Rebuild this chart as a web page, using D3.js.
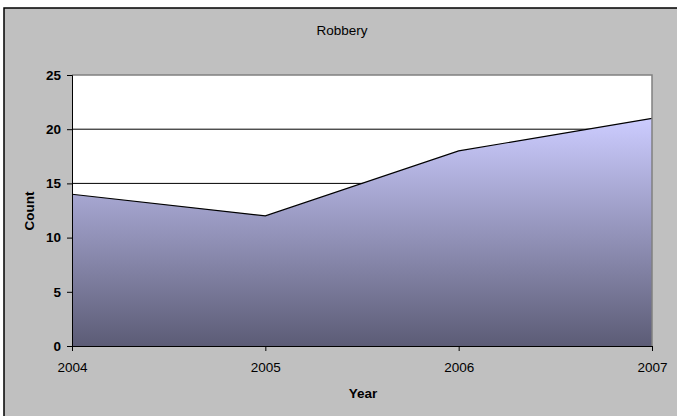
<!DOCTYPE html>
<html><head><meta charset="utf-8">
<script src="https://cdn.jsdelivr.net/npm/d3@7"></script>
<style>body{margin:0;background:#fff}svg{display:block;font-family:"Liberation Sans",Arial,sans-serif}</style>
</head><body><div id="c"></div>
<script>
const years = [2004, 2005, 2006, 2007];
const counts = [14, 12, 18, 21];
const yTicks = [0, 5, 10, 15, 20, 25];
const title = "Robbery";
const xTitle = "Year";
const yTitle = "Count";

const W = 677, H = 416;
const m = {left: 72, right: 652, top: 75, bottom: 346};
const FS = 13.5;
const svg = d3.select("#c").append("svg").attr("width", W).attr("height", H);

svg.append("rect").attr("x", 4).attr("y", 8).attr("width", 690).attr("height", 430)
  .attr("fill", "#c0c0c0").attr("stroke", "#000").attr("stroke-width", 1.5);

const x = d3.scaleLinear().domain([2004, 2007]).range([m.left, m.right]);
const y = d3.scaleLinear().domain([0, 25]).range([m.bottom, m.top]);

svg.append("rect").attr("x", m.left).attr("y", m.top)
  .attr("width", m.right - m.left).attr("height", m.bottom - m.top).attr("fill", "#fff");

// gridlines
svg.append("g").selectAll("line").data(yTicks.filter(t => t > 0 && t < 25)).join("line")
  .attr("x1", m.left).attr("x2", m.right).attr("y1", d => y(d)).attr("y2", d => y(d))
  .attr("stroke", "#000").attr("stroke-width", 1);

const defs = svg.append("defs");
const grad = defs.append("linearGradient").attr("id", "g")
  .attr("x1", 0).attr("x2", 0).attr("y1", 0).attr("y2", 1);
grad.append("stop").attr("offset", "0%").attr("stop-color", "#ccccff");
grad.append("stop").attr("offset", "100%").attr("stop-color", "#5c5c76");

const data = years.map((yr, i) => ({yr, v: counts[i]}));
svg.append("path").datum(data)
  .attr("d", d3.area().x(d => x(d.yr)).y0(y(0)).y1(d => y(d.v)))
  .attr("fill", "url(#g)");
svg.append("path").datum(data)
  .attr("d", d3.line().x(d => x(d.yr)).y(d => y(d.v)))
  .attr("fill", "none").attr("stroke", "#000").attr("stroke-width", 1.2);

// plot border top/right gray
svg.append("path").attr("d", `M${m.left},${m.top}H${m.right}V${m.bottom}`)
  .attr("fill", "none").attr("stroke", "#808080").attr("stroke-width", 1.5);

// axes
const yAxis = svg.append("g").attr("transform", `translate(${m.left},0)`)
  .call(d3.axisLeft(y).tickValues(yTicks).tickSize(5).tickPadding(6));
yAxis.select(".domain").attr("stroke", "#000");
yAxis.selectAll("text").attr("font-size", FS).attr("font-weight", "bold").attr("fill", "#000")
  .attr("font-family", "'Liberation Sans',Arial,sans-serif");

const xAxis = svg.append("g").attr("transform", `translate(0,${m.bottom})`)
  .call(d3.axisBottom(x).tickValues(years).tickFormat(d3.format("d")).tickSize(5).tickPadding(11));
xAxis.select(".domain").attr("stroke", "#000");
xAxis.selectAll("text").attr("font-size", FS).attr("fill", "#000")
  .attr("font-family", "'Liberation Sans',Arial,sans-serif");

svg.append("text").attr("x", 342).attr("y", 35).attr("text-anchor", "middle")
  .attr("font-size", FS).text(title);
svg.append("text").attr("x", 363).attr("y", 398).attr("text-anchor", "middle")
  .attr("font-size", FS).attr("font-weight", "bold").text(xTitle);
svg.append("text").attr("transform", "translate(34,211) rotate(-90)").attr("text-anchor", "middle")
  .attr("font-size", FS).attr("font-weight", "bold").text(yTitle);
</script></body></html>
